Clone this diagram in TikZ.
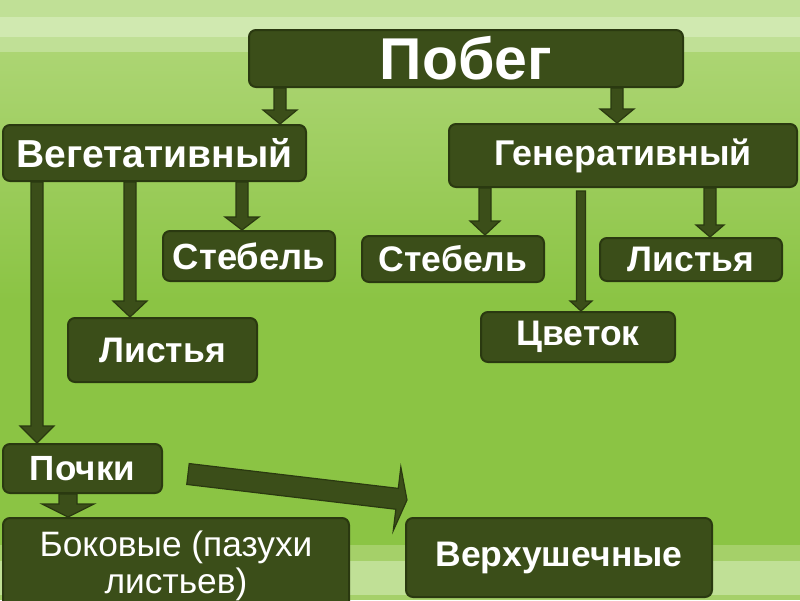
\documentclass[tikz,border=0pt]{standalone}
\usepackage{fontspec}
\setmainfont{Liberation Sans}
\usetikzlibrary{calc}

\definecolor{boxfill}{RGB}{59,78,25}
\definecolor{boxline}{RGB}{42,57,16}
\definecolor{bgtop}{RGB}{172,213,115}
\definecolor{bgmid}{RGB}{139,196,68}
\definecolor{stripe}{RGB}{192,224,150}
\definecolor{stripelt}{RGB}{208,233,176}
\definecolor{stripebot}{RGB}{165,208,105}

\begin{document}
\begin{tikzpicture}[x=1pt,y=-1pt,
  box/.style={rectangle,rounded corners=7pt,fill=boxfill,draw=boxline,line width=2pt,
    text=white,inner sep=0pt,align=center,font=\bfseries\fontsize{35.5}{38}\selectfont},
  barrow/.style n args={3}{fill=boxfill,draw=boxline,line width=1.2pt,
    to path={let \p1=($(\tikztotarget)-(\tikztostart)$),\n1={atan2(\y1,\x1)},\n2={veclen(\x1,\y1)} in
      ($(\tikztostart)+(\n1+90:#1)$) -- ($(\tikztostart)+(\n1:\n2-#3)+(\n1+90:#1)$)
      -- ($(\tikztostart)+(\n1:\n2-#3)+(\n1+90:#2)$) -- (\tikztotarget)
      -- ($(\tikztostart)+(\n1:\n2-#3)+(\n1-90:#2)$) -- ($(\tikztostart)+(\n1:\n2-#3)+(\n1-90:#1)$)
      -- ($(\tikztostart)+(\n1-90:#1)$) -- cycle}}]
\useasboundingbox (0,0) rectangle (800,600);
\fill[stripe] (0,0) rectangle (800,52);
\fill[stripelt] (0,17) rectangle (800,37);
\fill[top color=bgtop,bottom color=bgmid] (0,52) rectangle (800,300);
\fill[bgmid] (0,300) rectangle (800,545);
\fill[stripebot] (0,545) rectangle (800,600);
\fill[stripe] (0,561) rectangle (800,595);

\node[box,minimum width=434pt,minimum height=57pt,font=\bfseries\fontsize{59}{60}\selectfont] (pob) at (466,58.5) {Побег};
\node[box,minimum width=303pt,minimum height=56pt,font=\bfseries\fontsize{39}{40}\selectfont] (veg) at (154.5,153) {Вегетативный};
\node[box,minimum width=348pt,minimum height=63pt,font=\bfseries\fontsize{35.8}{38}\selectfont] (gen) at (623,155.5) {Генеративный};
\node[box,minimum width=172pt,minimum height=50pt,font=\bfseries\fontsize{36.4}{38}\selectfont] (stL) at (249,256) {Стебель};
\node[box,minimum width=182pt,minimum height=46pt] (stR) at (453,259) {Стебель};
\node[box,minimum width=182pt,minimum height=43pt] (lsR) at (691,259.5) {Листья};
\node[box,minimum width=194pt,minimum height=50pt] (cvt) at (578,337) {Цветок};
\node[box,minimum width=189pt,minimum height=64pt] (lsL) at (162.5,350) {Листья};
\node[box,minimum width=159pt,minimum height=49pt,font=\bfseries\fontsize{35}{38}\selectfont] (poc) at (82.5,468.5) {Почки};
\node[box,minimum width=346pt,minimum height=95pt,font=\fontsize{35.3}{37}\selectfont] (bok) at (176,565.5) {Боковые (пазухи\\листьев)};
\node[box,minimum width=306pt,minimum height=79pt] (ver) at (559,557.5) {Верхушечные};

\coordinate (p1) at ($(pob.south west)+(32,0)$);
\coordinate (p2) at ($(pob.south west)+(369,0)$);
\coordinate (v1) at ($(veg.south west)+(240,0)$);
\coordinate (v2) at ($(veg.south west)+(128,0)$);
\coordinate (v3) at ($(veg.south west)+(35,0)$);
\coordinate (g1) at ($(gen.south west)+(37,0)$);
\coordinate (g2) at ($(gen.south west)+(133,3)$);
\coordinate (g3) at ($(gen.south west)+(262,0)$);
\coordinate (k1) at ($(poc.south west)+(66,0)$);
\coordinate (k2) at ($(poc.east)+(25,5.5)$);
\coordinate (k3) at ($(ver.north west)+(2,-17)$);

\path[barrow={6pt}{17pt}{14pt}] (p1) to (p1 |- veg.north);
\path[barrow={6pt}{17pt}{14pt}] (p2) to (p2 |- gen.north);
\path[barrow={6pt}{17pt}{13pt}] (v1) to (v1 |- stL.north);
\path[barrow={6pt}{17pt}{16pt}] (v2) to (v2 |- lsL.north);
\path[barrow={6pt}{17pt}{17pt}] (v3) to (v3 |- poc.north);
\path[barrow={6pt}{15pt}{14pt}] (g1) to (g1 |- stR.north);
\path[barrow={4.5pt}{11pt}{10pt}] (g2) to (g2 |- cvt.north);
\path[barrow={6pt}{14pt}{12pt}] (g3) to (g3 |- lsR.north);
\path[barrow={9pt}{26pt}{13pt}] (k1) to (k1 |- bok.north);
\path[barrow={10.5pt}{32pt}{10pt}] (k2) to (k3);
\end{tikzpicture}
\end{document}
